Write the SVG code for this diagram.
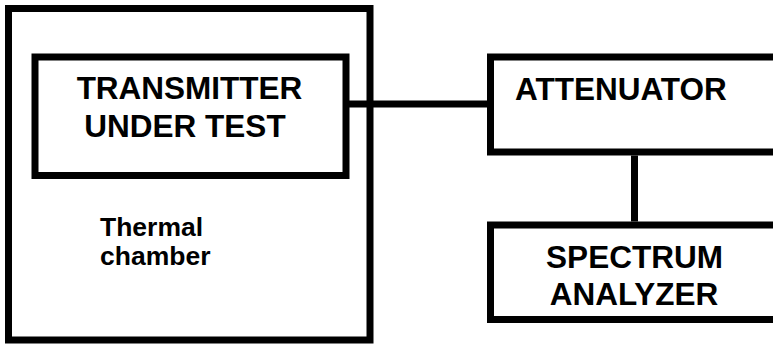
<svg xmlns="http://www.w3.org/2000/svg" width="773" height="345" viewBox="0 0 773 345">
<style>
.box{fill:none;stroke:#000;stroke-width:7}
.wire{fill:none;stroke:#000;stroke-width:7}
.cap{font-family:"Liberation Sans",Arial,sans-serif;font-weight:bold;font-size:31.5px;fill:#000}
.lbl{font-family:"Liberation Sans",Arial,sans-serif;font-weight:bold;font-size:26.5px;fill:#000}
</style>
<rect width="773" height="345" fill="#fff"/>
<g id="chamber">
<rect class="box" x="8.5" y="8.5" width="361.5" height="331.5" stroke-width="6.5"/>
<text class="lbl" x="100" y="236">Thermal</text>
<text class="lbl" x="100" y="265">chamber</text>
</g>
<g id="transmitter">
<rect class="box" x="35" y="57" width="311" height="118.5"/>
<text class="cap" x="189.5" y="99" text-anchor="middle">TRANSMITTER</text>
<text class="cap" x="185" y="137" text-anchor="middle">UNDER TEST</text>
</g>
<g id="attenuator">
<rect class="box" x="490.5" y="57" width="300" height="95"/>
<text class="cap" x="515" y="100">ATTENUATOR</text>
</g>
<g id="analyzer">
<rect class="box" x="490.5" y="225" width="300" height="94.5"/>
<text class="cap" x="634.5" y="268" text-anchor="middle">SPECTRUM</text>
<text class="cap" x="634" y="305" text-anchor="middle">ANALYZER</text>
</g>
<g id="connectors">
<line class="wire" x1="349" y1="104" x2="487" y2="104"/>
<line class="wire" x1="634.5" y1="155.5" x2="634.5" y2="221.5"/>
</g>
</svg>
